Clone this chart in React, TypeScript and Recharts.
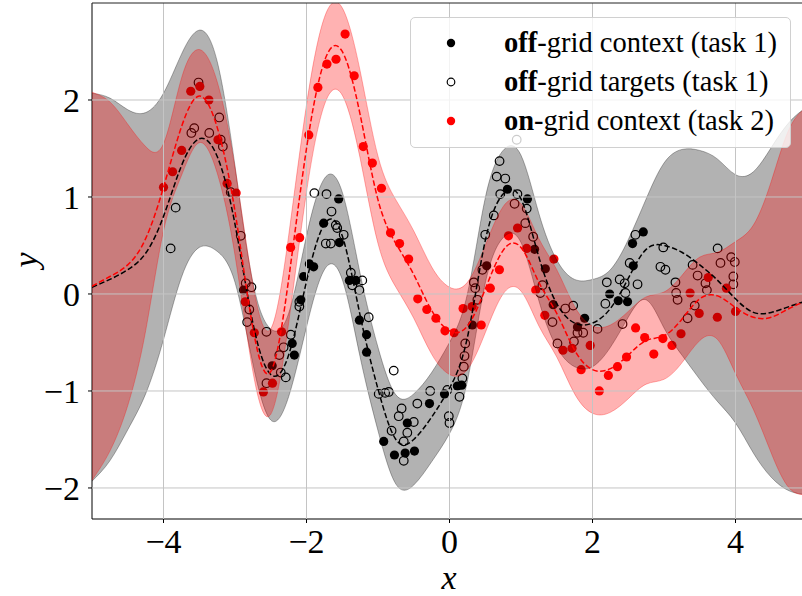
import {
  ComposedChart,
  Area,
  Line,
  Scatter,
  XAxis,
  YAxis,
  ReferenceLine
} from 'recharts';

// posterior curves, sampled every 0.25 on x
const gridX = [
  -5, -4.75, -4.5, -4.25, -4, -3.75, -3.5, -3.25, -3, -2.75, -2.5, -2.25, -2, -1.75, -1.5, -1.25, -1,
  -0.75, -0.5, -0.25, 0, 0.25, 0.5, 0.75, 1, 1.25, 1.5, 1.75, 2, 2.25, 2.5, 2.75, 3, 3.25, 3.5, 3.75,
  4, 4.25, 4.5, 4.75, 5
];

const meanTask1 = [
  0.07, 0.15, 0.25, 0.42, 0.8, 1.32, 1.6, 1.42, 0.72, -0.3, -0.83, -0.63, 0.13, 0.72, 0.6, -0.22, -0.98,
  -1.5, -1.5, -1.27, -0.97, -0.45, 0.55, 1.03, 0.98, 0.38, -0.1, -0.3, -0.3, -0.15, 0.16, 0.46, 0.5, 0.43,
  0.3, 0.14, -0.05, -0.19, -0.19, -0.13, -0.07
];
const lowerTask1 = [
  -1.93, -1.72, -1.4, -1.03, -0.47, 0.17, 0.48, 0.44, 0.12, -0.72, -1.3, -1.06, -0.34, 0.25, 0.15, -0.65,
  -1.41, -1.96, -1.97, -1.73, -1.44, -0.9, 0.11, 0.58, 0.53, -0.07, -0.55, -0.75, -0.75, -0.55, -0.24,
  -0.06, -0.35, -0.63, -0.88, -1.11, -1.33, -1.64, -1.89, -2.03, -2.07
];
const upperTask1 = [
  2.07, 2.02, 1.9, 1.87, 2.07, 2.47, 2.72, 2.4, 1.32, 0.12, -0.36, -0.2, 0.6, 1.19, 1.05, 0.21, -0.55,
  -1.04, -1.03, -0.81, -0.5, 0.0, 0.99, 1.48, 1.43, 0.83, 0.35, 0.15, 0.15, 0.25, 0.56, 0.98, 1.35, 1.49,
  1.48, 1.39, 1.23, 1.26, 1.51, 1.77, 1.93
];

const meanTask2 = [
  0.08, 0.18, 0.3, 0.57, 1.1, 1.72, 2.04, 1.72, 0.85, -0.35, -0.8, 0.15, 1.5, 2.4, 2.5, 1.85, 0.97, 0.52,
  0.2, -0.17, -0.38, -0.33, 0.05, 0.45, 0.48, 0.12, -0.2, -0.58, -0.78, -0.77, -0.63, -0.48, -0.43, -0.26,
  -0.05, -0.02, -0.14, -0.24, -0.24, -0.15, -0.07
];
const lowerTask2 = [
  -1.92, -1.62, -1.15, -0.38, 0.65, 1.22, 1.56, 1.25, 0.4, -0.8, -1.24, -0.3, 1.05, 1.95, 2.05, 1.4, 0.52,
  0.07, -0.25, -0.62, -0.83, -0.78, -0.4, 0.0, 0.03, -0.33, -0.65, -1.03, -1.23, -1.22, -1.08, -0.93,
  -0.88, -0.71, -0.48, -0.47, -0.82, -1.19, -1.64, -2.0, -2.07
];
const upperTask2 = [
  2.08, 1.98, 1.75, 1.52, 1.55, 2.22, 2.52, 2.19, 1.3, 0.1, -0.36, 0.6, 1.95, 2.85, 2.95, 2.3, 1.42, 0.97,
  0.65, 0.28, 0.07, 0.12, 0.5, 0.9, 0.93, 0.57, 0.25, -0.13, -0.33, -0.32, -0.18, -0.03, 0.02, 0.19, 0.38,
  0.43, 0.54, 0.71, 1.16, 1.7, 1.93
];

// off-grid context, task 1
const contextX = [
  -2.88, -2.48, -2.2, -2.17, -2.08, -2.04, -1.96, -1.9, -1.76, -1.55, -1.54, -1.4, -1.31, -1.26, -1.16,
  -1.16, -0.92, -0.77, -0.62, -0.49, -0.59, -0.28, -0.07, 0.11, 0.17, 0.32, 0.52, 0.81, 1.09, 1.19, 1.34,
  1.45, 1.79, 1.89, 2.24, 2.36, 2.49, 2.57, 2.56, 2.71
];
const contextY = [
  0.04, -0.74, -0.51, -0.63, -0.06, 0.18, 0.31, 0.28, 0.73, 0.98, 0.53, 0.14, 0.14, -0.27, -0.42, -0.6,
  -1.52, -1.66, -1.64, -1.62, -1.33, -1.13, -1.03, -0.95, -0.94, -0.32, 0.29, 1.08, 0.98, 0.46, 0.26,
  -0.11, -0.34, -0.25, 0.0, -0.07, -0.08, 0.29, 0.52, 0.64
];

// off-grid targets, task 1
const targetX = [
  -3.51, -3.57, -3.61, -3.36, -3.22, -3.2, -3.17, -3.06, -3.83, -3.9, -2.92, -2.85, -2.77, -2.83, -2.8,
  -2.56, -2.56, -2.36, -2.29, -2.32, -2.38, -2.22, -2.1, -2.1, -1.89, -1.72, -1.65, -1.59, -1.57, -1.73,
  -1.66, -1.48, -1.38, -1.22, -1.36, -1.26, -1.13, -0.78, -0.99, -0.9, -0.85, -0.67, -0.71, -0.5, -0.81,
  -0.59, -0.64, -0.64, -0.45, -0.27, -0.01, 0.0, -0.03, 0.14, 0.18, 0.2, 0.21, 0.22, 0.34, 0.36, 0.39,
  0.46, 0.5, 0.62, 0.66, 0.7, 0.71, 0.78, 0.91, 0.94, 0.95, 1.06, 1.08, 1.17, 1.3, 1.27, 1.44, 1.51, 1.62,
  1.73, 1.79, 1.74, 1.87, 2.07, 2.18, 2.2, 2.38, 2.45, 2.46, 2.63, 2.42, 2.52, 2.6, 2.99, 2.95, 3.02, 3.16,
  3.17, 3.19, 3.4, 3.47, 3.43, 3.33, 3.58, 3.6, 3.75, 3.79, 3.94, 3.99, 3.97, 3.97
];
const targetY = [
  2.18, 1.71, 1.66, 1.66, 1.82, 1.59, 1.52, 1.05, 0.89, 0.47, 0.6, 0.11, 0.07, -0.29, -0.16, -0.39, -0.92,
  -0.81, -0.86, -0.55, -0.63, -0.42, -0.08, -0.13, 1.04, 1.03, 0.85, 0.71, 0.68, 0.52, 0.52, 0.61, 0.22,
  0.14, 0.09, 0.04, -0.24, -0.79, -1.03, -1.02, -1.01, -1.18, -1.26, -1.32, -1.41, -1.43, -1.52, -1.72,
  -1.13, -1.0, -1.26, -1.33, -0.99, -1.06, -0.87, -0.75, -0.64, -0.51, 0.12, 0.06, -0.06, 0.25, 0.61,
  0.81, 1.21, 1.37, 1.03, 1.19, 0.93, 1.59, 1.03, 0.73, 0.88, 0.59, 0.09, 0.01, -0.29, -0.51, -0.15,
  -0.12, -0.4, -0.49, -0.4, -0.36, -0.1, 0.12, 0.15, 0.11, 0.01, 0.1, -0.31, 0.32, 0.61, 0.48, 0.28, 0.25,
  0.12, 0.01, -0.06, 0.3, 0.19, -0.12, -0.25, 0.11, 0.04, 0.47, 0.32, 0.38, 0.33, 0.18, 0.1
];

// on-grid context, task 2
const onGridX = [
  -4.0, -3.873, -3.746, -3.619, -3.492, -3.365, -3.238, -3.111, -2.984, -2.857, -2.73, -2.603, -2.476,
  -2.349, -2.222, -2.095, -1.968, -1.841, -1.714, -1.587, -1.46, -1.333, -1.206, -1.079, -0.952, -0.825,
  -0.698, -0.571, -0.444, -0.317, -0.19, -0.063, 0.063, 0.19, 0.317, 0.444, 0.571, 0.698, 0.825, 0.952,
  1.079, 1.206, 1.333, 1.46, 1.587, 1.714, 1.841, 1.968, 2.095, 2.222, 2.349, 2.476, 2.603, 2.73, 2.857,
  2.984, 3.111, 3.238, 3.365, 3.492, 3.619, 3.746, 3.873, 4.0
];
const onGridY = [
  1.1, 1.26, 1.48, 2.09, 2.14, 2.0, 1.59, 1.14, 1.04, -0.08, -0.4, -1.01, -0.92, -0.39, 0.48, 0.58, 1.64,
  2.13, 2.37, 2.42, 2.68, 2.25, 1.52, 1.35, 1.09, 0.63, 0.52, 0.36, -0.05, -0.16, -0.25, -0.38, -0.4,
  -0.15, -0.13, -0.32, 0.06, 0.25, 0.6, 0.68, 0.47, 0.04, -0.22, 0.36, -0.58, -0.56, -0.78, -0.53, -1.0,
  -0.84, -0.75, -0.65, -0.35, -0.45, -0.62, -0.46, -0.53, -0.41, 0.01, -0.2, 0.17, -0.24, 0.06, -0.18
];

const xTicks = [-4, -2, 0, 2, 4];
const yTicks = [-2, -1, 0, 1, 2];

const SERIF = '"Liberation Serif", "DejaVu Serif", serif';
const GRID = '#c4c4c4';
const W = 807;
const H = 596;
const MARGIN = { top: 3, right: 0, bottom: 0, left: 0 };

const curveData = gridX.map((x, i) => ({
  x,
  m1: meanTask1[i],
  band1: [lowerTask1[i], upperTask1[i]],
  m2: meanTask2[i],
  band2: [lowerTask2[i], upperTask2[i]]
}));

const contextPts = contextX.map((x, i) => ({ x, y: contextY[i] }));
const targetPts = targetX.map((x, i) => ({ x, y: targetY[i] }));
const onGridPts = onGridX.map((x, i) => ({ x, y: onGridY[i] }));

const fmt = (v: number) => (v < 0 ? `\u2212${Math.abs(v)}` : `${v}`);

const tickStyle = { fill: '#000', fontSize: 34, fontFamily: SERIF, style: { fontFamily: SERIF } };

// same axes in both layers so they share one coordinate frame
function axes(visible: boolean) {
  return [
    <XAxis
      key="xa"
      type="number"
      dataKey="x"
      domain={[-5, 5]}
      ticks={xTicks}
      tickFormatter={fmt}
      height={77}
      tickSize={4}
      tickMargin={6}
      axisLine={visible ? { stroke: '#000', strokeWidth: 1 } : false}
      tickLine={visible ? { stroke: '#000', strokeWidth: 1 } : false}
      tick={visible ? tickStyle : false}
      allowDataOverflow
    />,
    <YAxis
      key="ya"
      type="number"
      domain={[-2.32, 3.0]}
      ticks={yTicks}
      tickFormatter={fmt}
      width={92}
      tickSize={4}
      tickMargin={8}
      axisLine={visible ? { stroke: '#000', strokeWidth: 1 } : false}
      tickLine={visible ? { stroke: '#000', strokeWidth: 1 } : false}
      tick={visible ? tickStyle : false}
      allowDataOverflow
    />
  ];
}

const legendRows = [
  { bold: 'off', rest: '-grid context (task 1)', kind: 'filled', color: '#000' },
  { bold: 'off', rest: '-grid targets (task 1)', kind: 'open', color: '#000' },
  { bold: 'on', rest: '-grid context (task 2)', kind: 'filled', color: '#ff0000' }
];

export default function App() {
  return (
    <div
      style={{
        position: 'relative',
        width: 802,
        height: 596,
        overflow: 'hidden',
        background: '#fff',
        fontFamily: SERIF
      }}
    >
      <style>{'body{margin:0;overflow:hidden}'}</style>

      {/* bottom layer: axes and the points */}
      <div style={{ position: 'absolute', left: 0, top: 0 }}>
        <ComposedChart width={W} height={H} margin={MARGIN} style={{ fontFamily: SERIF }}>
          {axes(true)}
          <Scatter
            data={targetPts}
            dataKey="y"
            isAnimationActive={false}
            shape={(p: any) => (
              <circle cx={p.cx} cy={p.cy} r={4.3} fill="none" stroke="#000" strokeWidth={1.2} />
            )}
          />
          <Scatter
            data={contextPts}
            dataKey="y"
            isAnimationActive={false}
            shape={(p: any) => <circle cx={p.cx} cy={p.cy} r={4.6} fill="#000" />}
          />
          <Scatter
            data={onGridPts}
            dataKey="y"
            isAnimationActive={false}
            shape={(p: any) => <circle cx={p.cx} cy={p.cy} r={4.6} fill="#ff0000" />}
          />
        </ComposedChart>
      </div>

      {/* top layer: translucent bands over the points, then means and grid */}
      <div style={{ position: 'absolute', left: 0, top: 0 }}>
        <ComposedChart width={W} height={H} data={curveData} margin={MARGIN}>
          {axes(false)}
          <Area
            type="natural"
            dataKey="band1"
            fill="#000"
            fillOpacity={0.3}
            stroke="#000"
            strokeOpacity={0.3}
            strokeWidth={1}
            isAnimationActive={false}
          />
          <Area
            type="natural"
            dataKey="band2"
            fill="#ff0000"
            fillOpacity={0.3}
            stroke="#ff0000"
            strokeOpacity={0.3}
            strokeWidth={1}
            isAnimationActive={false}
          />
          {xTicks.map((t) => (
            <ReferenceLine key={`gx${t}`} x={t} stroke={GRID} strokeWidth={1} />
          ))}
          {yTicks.map((t) => (
            <ReferenceLine key={`gy${t}`} y={t} stroke={GRID} strokeWidth={1} />
          ))}
          <ReferenceLine y={3.0} stroke="#222" strokeWidth={1} />
          <Line
            type="natural"
            dataKey="m1"
            stroke="#000"
            strokeWidth={1.5}
            strokeDasharray="5.5 2.5"
            dot={false}
            isAnimationActive={false}
          />
          <Line
            type="natural"
            dataKey="m2"
            stroke="#ff0000"
            strokeWidth={1.5}
            strokeDasharray="5.5 2.5"
            dot={false}
            isAnimationActive={false}
          />
        </ComposedChart>
      </div>

      <div
        style={{
          position: 'absolute',
          left: 449,
          top: 561,
          transform: 'translateX(-50%)',
          fontFamily: SERIF,
          fontStyle: 'italic',
          fontSize: 34,
          lineHeight: 1
        }}
      >
        x
      </div>
      <div
        style={{
          position: 'absolute',
          left: 26,
          top: 260,
          transform: 'translate(-50%, -50%) rotate(-90deg)',
          fontFamily: SERIF,
          fontStyle: 'italic',
          fontSize: 34,
          lineHeight: 1
        }}
      >
        y
      </div>

      <div
        style={{
          position: 'absolute',
          left: 410,
          top: 17,
          width: 381,
          height: 131,
          boxSizing: 'border-box',
          background: 'rgba(255,255,255,0.8)',
          border: '1px solid #d0d0d0',
          borderRadius: 5,
          fontFamily: SERIF,
          fontSize: 28.5
        }}
      >
        {legendRows.map((r, i) => (
          <div
            key={i}
            style={{
              position: 'absolute',
              left: 0,
              top: 25 + i * 39 - 16,
              height: 32,
              display: 'flex',
              alignItems: 'center',
              whiteSpace: 'nowrap'
            }}
          >
            <svg width={80} height={32} style={{ display: 'block', flex: 'none' }}>
              {r.kind === 'open' ? (
                <circle cx={40} cy={16} r={3.8} fill="none" stroke={r.color} strokeWidth={1.2} />
              ) : (
                <circle cx={40} cy={16} r={4.2} fill={r.color} />
              )}
            </svg>
            <span style={{ marginLeft: 13, lineHeight: 1 }}>
              <b>{r.bold}</b>
              {r.rest}
            </span>
          </div>
        ))}
      </div>
    </div>
  );
}
